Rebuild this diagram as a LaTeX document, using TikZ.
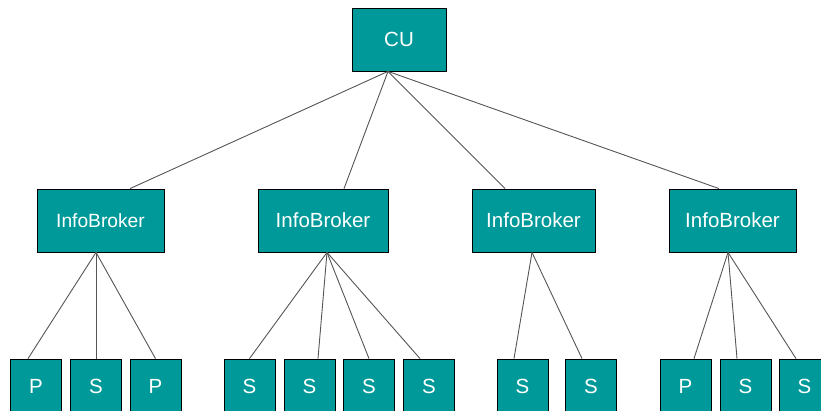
\documentclass[tikz,border=0pt]{standalone}
\usepackage{fontspec}
\setmainfont{Liberation Sans}
\definecolor{boxteal}{RGB}{0,153,153}
\definecolor{linkgray}{RGB}{85,85,85}
\begin{document}
\begin{tikzpicture}[x=1pt,y=-1pt,
  unit/.style={draw=black,line width=0.8pt,fill=boxteal,text=white,
    inner sep=0pt,font=\fontsize{20.5}{22}\selectfont},
  top/.style={unit,minimum width=94pt,minimum height=63pt},
  broker/.style={unit,minimum width=127pt,minimum height=63pt},
  leaf/.style={unit,minimum width=51pt,minimum height=54pt},
  link/.style={draw=linkgray,line width=0.9pt}]
\useasboundingbox (0,0) rectangle (821,411);
\clip (0,0) rectangle (821,411);

% control unit
\node[top] (cu) at (399,39.5) {CU};

% brokers
\node[broker,font=\fontsize{19.2}{21}\selectfont] (ib1) at (100.5,220.5) {InfoBroker};
\node[broker,minimum width=130pt] (ib2) at (323,220.5) {InfoBroker};
\node[broker,minimum width=123pt] (ib3) at (533.5,220.5) {InfoBroker};
\node[broker] (ib4) at (732.5,220.5) {InfoBroker};

% leaves
\node[leaf] (a1) at (36,386) {P};
\node[leaf] (a2) at (96,386) {S};
\node[leaf] (a3) at (155.5,386) {P};
\node[leaf] (b1) at (249.5,386) {S};
\node[leaf] (b2) at (309.5,386) {S};
\node[leaf] (b3) at (369,386) {S};
\node[leaf] (b4) at (429,386) {S};
\node[leaf] (c1) at (522.5,386) {S};
\node[leaf] (c2) at (591,386) {S};
\node[leaf] (d1) at (685.5,386) {P};
\node[leaf] (d2) at (745.5,386) {S};
\node[leaf] (d3) at (804.5,386) {S};

% hub points where the links meet
\coordinate (cuhub) at ([xshift=-11pt]cu.south);
\coordinate (hub1) at ([xshift=-4.5pt]ib1.south);
\coordinate (hub2) at ([xshift=4pt]ib2.south);
\coordinate (hub3) at ([xshift=-1.5pt]ib3.south);
\coordinate (hub4) at ([xshift=-4.5pt]ib4.south);

% CU to brokers
\draw[link] (cuhub) -- ([xshift=29.5pt]ib1.north);
\draw[link] (cuhub) -- ([xshift=21pt]ib2.north);
\draw[link] (cuhub) -- ([xshift=-28.5pt]ib3.north);
\draw[link] (cuhub) -- ([xshift=-13.5pt]ib4.north);

% brokers to leaves
\draw[link] (hub1) -- ([xshift=-8pt]a1.north);
\draw[link] (hub1) -- (a2.north);
\draw[link] (hub1) -- (a3.north);
\draw[link] (hub2) -- (b1.north);
\draw[link] (hub2) -- ([xshift=8.5pt]b2.north);
\draw[link] (hub2) -- (b3.north);
\draw[link] (hub2) -- ([xshift=-9pt]b4.north);
\draw[link] (hub3) -- ([xshift=-8.5pt]c1.north);
\draw[link] (hub3) -- ([xshift=-9pt]c2.north);
\draw[link] (hub4) -- ([xshift=8.5pt]d1.north);
\draw[link] (hub4) -- ([xshift=-8.5pt]d2.north);
\draw[link] (hub4) -- ([xshift=-8.5pt]d3.north);
\end{tikzpicture}
\end{document}
